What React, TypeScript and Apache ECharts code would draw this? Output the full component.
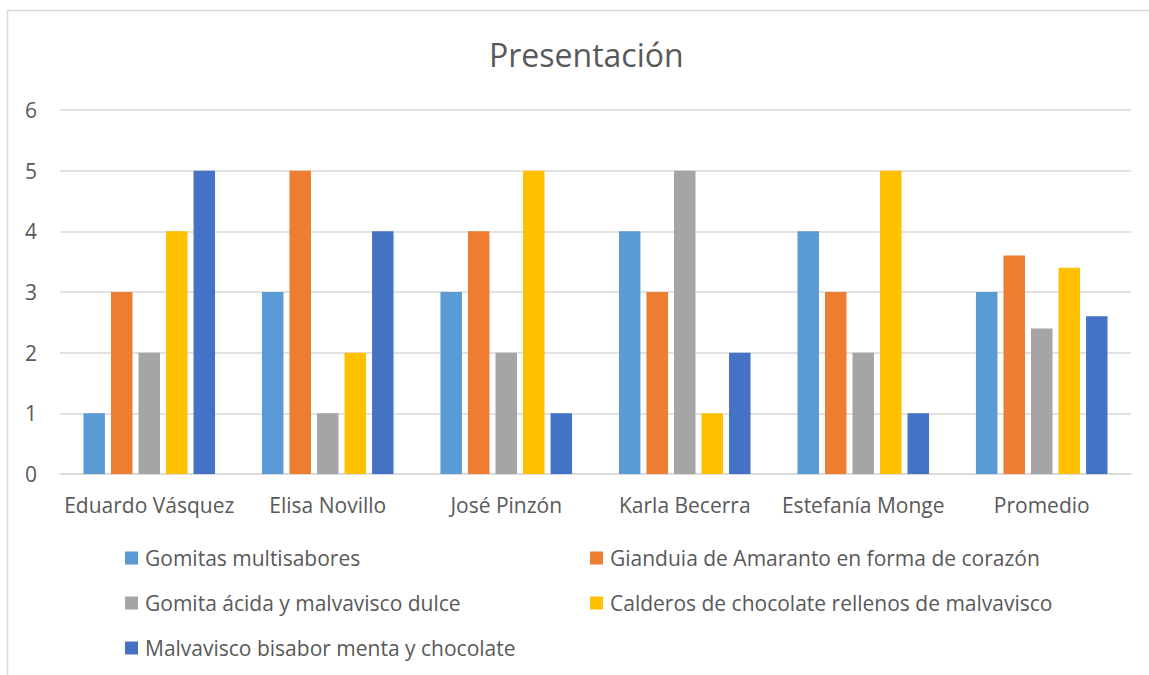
import React, { useEffect, useRef } from "react";
import * as echarts from "echarts";

const categories = [
  "Eduardo Vásquez",
  "Elisa Novillo",
  "José Pinzón",
  "Karla Becerra",
  "Estefanía Monge",
  "Promedio",
];

const seriesNames = [
  "Gomitas multisabores",
  "Gianduia de Amaranto en forma de corazón",
  "Gomita ácida y malvavisco dulce",
  "Calderos de chocolate rellenos de malvavisco",
  "Malvavisco bisabor menta y chocolate",
];

const gomitasMultisabores = [1, 3, 3, 4, 4, 3];
const giandujaAmaranto = [3, 5, 4, 3, 3, 3.6];
const gomitaAcida = [2, 1, 2, 5, 2, 2.4];
const calderosChocolate = [4, 2, 5, 1, 5, 3.4];
const malvaviscoBisabor = [5, 4, 1, 2, 1, 2.6];

const seriesValues = [
  gomitasMultisabores,
  giandujaAmaranto,
  gomitaAcida,
  calderosChocolate,
  malvaviscoBisabor,
];

const colors = ["#5B9BD5", "#ED7D31", "#A5A5A5", "#FFC000", "#4472C4"];

const FONT = "'Open Sans', 'Noto Sans', sans-serif";
const TEXT = "#595959";

export default function App() {
  const ref = useRef<HTMLDivElement>(null);

  useEffect(() => {
    if (!ref.current) return;
    const chart = echarts.init(ref.current, undefined, { renderer: "svg" });

    const legendCommon = {
      orient: "vertical" as const,
      icon: "rect",
      padding: 0,
      itemWidth: 13,
      itemHeight: 13,
      itemGap: 21,
      selectedMode: false,
      textStyle: {
        color: TEXT,
        fontFamily: FONT,
        fontSize: 21,
        lineHeight: 24,
        padding: [0, 0, 0, 2],
      },
    };

    chart.setOption({
      animation: false,
      color: colors,
      textStyle: { fontFamily: FONT },
      title: {
        text: "Presentación",
        left: 484,
        top: 33,
        textStyle: {
          color: TEXT,
          fontFamily: FONT,
          fontSize: 32,
          fontWeight: "normal",
        },
      },
      graphic: [
        {
          type: "rect",
          shape: { x: 7.5, y: 10.5, width: 1300, height: 800 },
          style: { fill: "none", stroke: "#d9d9d9", lineWidth: 1.5 },
          silent: true,
        },
      ],
      legend: [
        {
          ...legendCommon,
          left: 125,
          top: 546,
          data: [seriesNames[0], seriesNames[2], seriesNames[4]],
        },
        {
          ...legendCommon,
          left: 590,
          top: 546,
          data: [seriesNames[1], seriesNames[3]],
        },
      ],
      grid: { left: 60, right: 18, top: 110, bottom: 201, containLabel: false },
      xAxis: {
        type: "category",
        data: categories,
        axisTick: { show: false },
        axisLine: { lineStyle: { color: "#d9d9d9", width: 1.5 } },
        axisLabel: {
          color: TEXT,
          fontFamily: FONT,
          fontSize: 21,
          margin: 20,
          interval: 0,
        },
      },
      yAxis: {
        type: "value",
        min: 0,
        max: 6,
        interval: 1,
        axisLine: { show: false },
        axisTick: { show: false },
        splitLine: { lineStyle: { color: "#d9d9d9", width: 1.5 } },
        axisLabel: {
          color: TEXT,
          fontFamily: FONT,
          fontSize: 21,
          margin: 29,
          align: "center",
        },
      },
      series: seriesNames.map((name, i) => ({
        name,
        type: "bar",
        data: seriesValues[i],
        barWidth: 21.5,
        barGap: "28%",
        itemStyle: { color: colors[i] },
      })),
    });

    return () => chart.dispose();
  }, []);

  return (
    <div
      ref={ref}
      style={{
        position: "absolute",
        left: 0,
        top: 0,
        width: 1149,
        height: 675,
        background: "#fff",
      }}
    />
  );
}
